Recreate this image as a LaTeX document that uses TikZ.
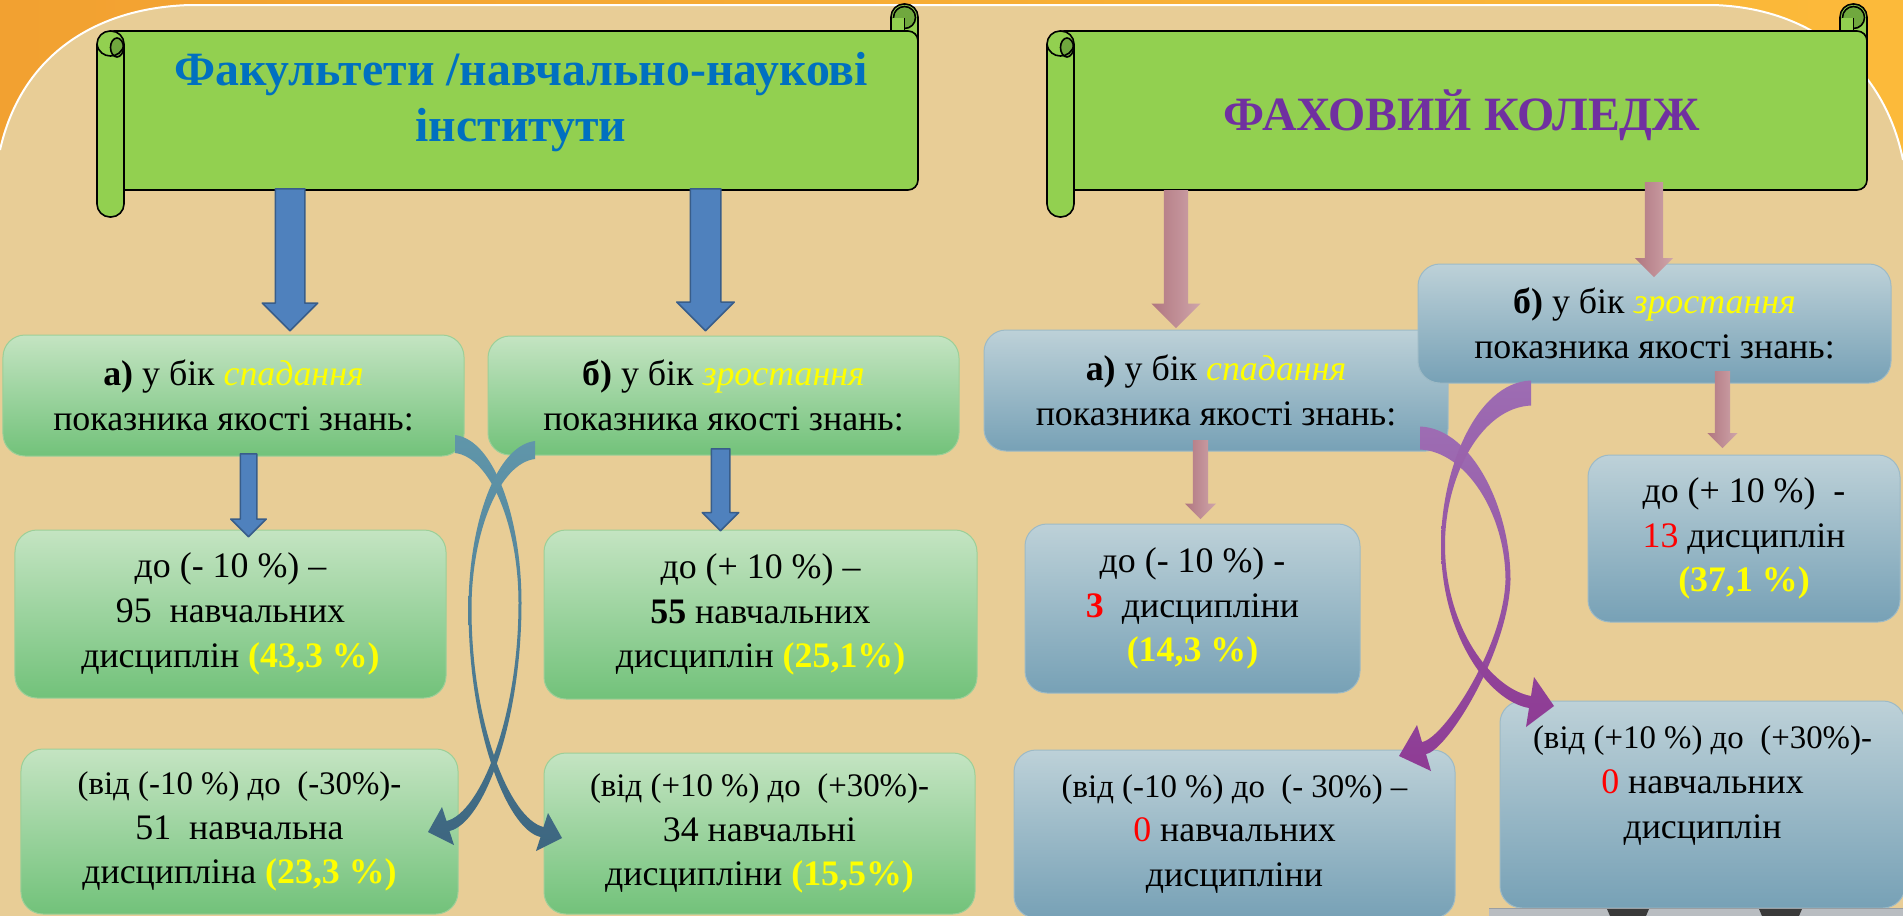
\documentclass[tikz,border=0pt]{standalone}
\usepackage{fontspec}
\setmainfont{Liberation Serif}
\usetikzlibrary{shapes.arrows}

\definecolor{orangel}{HTML}{F2A131}
\definecolor{oranger}{HTML}{FCBA3A}
\definecolor{parch}{HTML}{E8CD96}
\definecolor{scrollg}{HTML}{92D050}
\definecolor{scrolld}{HTML}{70A83E}
\definecolor{facblue}{HTML}{0070C0}
\definecolor{colpurple}{HTML}{7030A0}
\definecolor{gtop}{HTML}{C4E4C2}
\definecolor{gbot}{HTML}{72C27A}
\definecolor{gedge}{HTML}{9CCF98}
\definecolor{btop}{HTML}{BDD1D8}
\definecolor{bbot}{HTML}{77A1B6}
\definecolor{bedge}{HTML}{9DBAC6}
\definecolor{arrblue}{HTML}{4F81BD}
\definecolor{arrblued}{HTML}{385D8A}
\definecolor{rosel}{HTML}{B07680}
\definecolor{roser}{HTML}{CFA5AA}
\definecolor{tealtop}{HTML}{6096AA}
\definecolor{tealbot}{HTML}{3D6680}
\definecolor{lilactop}{HTML}{9D6DB3}
\definecolor{lilacbot}{HTML}{8E3B94}
\definecolor{yel}{HTML}{FFFF00}
\definecolor{numred}{HTML}{FF0000}
\definecolor{stripgrey}{HTML}{B9BDC1}
\definecolor{stripedge}{HTML}{9A9EA2}
\definecolor{stripdark}{HTML}{3A3A3A}

\newcommand\yelb[1]{\textcolor{yel}{\textbf{#1}}}
\newcommand\yeli[1]{\textcolor{yel}{\textit{#1}}}
\newcommand\rednum[1]{\textcolor{numred}{#1}}
\newcommand\vidline{\fontsize{33}{45}\selectfont}

\tikzset{
  scroll/.style={fill=scrollg,draw=black,line width=1.6bp},
  curl/.style={fill=scrolld,draw=black,line width=1.6bp},
  gbox/.style={rectangle,rounded corners=22bp,top color=gtop,bottom color=gbot,draw=gedge,line width=1bp,align=center,inner sep=0pt,font=\fontsize{36}{45}\selectfont},
  bbox/.style={gbox,top color=btop,bottom color=bbot,draw=bedge},
  bluearr/.style={single arrow,rotate=-90,anchor=tail,inner xsep=0pt,single arrow tip angle=90,fill=arrblue,draw=arrblued,line width=1.5bp},
  rosearr/.style={single arrow,rotate=-90,anchor=tail,inner xsep=0pt,single arrow tip angle=90,left color=rosel,right color=roser,draw=none},
}

\begin{document}
\begin{tikzpicture}[x=1bp,y=-1bp,line join=round]
\useasboundingbox (0,0) rectangle (1903,916);
%% background
\shade[left color=orangel,right color=oranger] (0,0) rectangle (1903,916);
\fill[parch] (0,150) .. controls (20,60) and (90,8) .. (190,5) -- (1713,5) .. controls (1815,8) and (1885,70) .. (1903,160) -- (1903,916) -- (0,916) -- cycle;
\draw[white,line width=2bp] (0,150) .. controls (20,60) and (90,8) .. (190,5) -- (1713,5) .. controls (1815,8) and (1885,70) .. (1903,160);
%% scroll 1
\filldraw[scroll,rounded corners=13bp] (891,4) rectangle (918,60);
\filldraw[scroll,rounded corners=10bp] (104,31) rectangle (918,190);
\filldraw[curl] (904.5,17.5) circle (11);
\fill[scrollg] (892.5,18) rectangle (904.5,30);
\draw[line width=1.6bp] (904.5,18) -- (904.5,31);
\filldraw[scroll,rounded corners=13bp] (97,31) rectangle (124,217);
\filldraw[curl] (117,47.5) ellipse (6.5 and 9.5);
\draw[line width=1.6bp] (97,44) .. controls (99,60) and (122,60) .. (124,44);
%% scroll 2
\filldraw[scroll,rounded corners=13bp] (1840,4) rectangle (1867,60);
\filldraw[scroll,rounded corners=10bp] (1054,31) rectangle (1867,190);
\filldraw[curl] (1853.5,17.5) circle (11);
\fill[scrollg] (1841.5,18) rectangle (1853.5,30);
\draw[line width=1.6bp] (1853.5,18) -- (1853.5,31);
\filldraw[scroll,rounded corners=13bp] (1047,31) rectangle (1074,217);
\filldraw[curl] (1067,47.5) ellipse (6.5 and 9.5);
\draw[line width=1.6bp] (1047,44) .. controls (1049,60) and (1072,60) .. (1074,44);
%% titles
\node (factitle) at (521,102) [align=center,text=facblue,font=\fontsize{48}{56}\selectfont\bfseries] {Факультети /навчально-наукові\\інститути};
\node (coltitle) at (1462,130) [anchor=base,text=colpurple,font=\fontsize{48}{56}\selectfont\bfseries] {ФАХОВИЙ КОЛЕДЖ};
%% faculties
\node (faca) at (233.5,395.5) [gbox,minimum width=461bp,minimum height=121bp] {\textbf{а)} у бік \yeli{спадання}\\показника якості знань:};
\node (facb) at (723.5,395.5) [gbox,minimum width=471bp,minimum height=119bp] {\textbf{б)} у бік \yeli{зростання}\\показника якості знань:};
\node (facdown) at (230.5,614) [gbox,minimum width=431bp,minimum height=168bp] {до (- 10 \%) –\\95~ навчальних\\дисциплін \yelb{(43,3 \%)}};
\node (facup) at (760.5,614.5) [gbox,minimum width=433bp,minimum height=169bp] {до (+ 10 \%) –\\\textbf{55} навчальних\\дисциплін \yelb{(25,1\%)}};
\node (facdowntwo) at (239.5,831.5) [gbox,minimum width=437bp,minimum height=165bp] {{\vidline(від (-10 \%) до~ (-30\%)-}\\51~ навчальна\\дисципліна \yelb{(23,3 \%)}};
\node (facuptwo) at (759.5,833.5) [gbox,minimum width=431bp,minimum height=161bp] {{\vidline(від (+10 \%) до~ (+30\%)-}\\34 навчальні\\дисципліни \yelb{(15,5\%)}};
%% college
\node (cola) at (1216,390.5) [bbox,minimum width=464bp,minimum height=121bp] {\textbf{а)} у бік \yeli{спадання}\\показника якості знань:};
\node (colb) at (1654.5,323.5) [bbox,minimum width=473bp,minimum height=119bp] {\textbf{б)} у бік \yeli{зростання}\\показника якості знань:};
\node (coldown) at (1192.5,608.5) [bbox,minimum width=335bp,minimum height=169bp] {до (- 10 \%) -\\\rednum{\textbf{3}}~ дисципліни\\\yelb{(14,3 \%)}};
\node (colup) at (1744,538.5) [bbox,minimum width=312bp,minimum height=167bp] {до (+ 10 \%)~ -\\\rednum{13} дисциплін\\\yelb{(37,1 \%)}};
\node (coldowntwo) at (1234.5,834) [bbox,minimum width=441bp,minimum height=168bp] {{\vidline(від (-10 \%) до~ (- 30\%) –}\\\rednum{0} навчальних\\дисципліни};
\node (coluptwo) at (1702.5,804.5) [bbox,minimum width=405bp,minimum height=207bp] {{\vidline(від (+10 \%) до~ (+30\%)-}\\\rednum{0} навчальних\\дисциплін\\\mbox{}};
%% block arrows
\node (arra) at (290,188) [bluearr,minimum height=142bp,inner ysep=14bp,single arrow head extend=13bp] {};
\node (arrb) at (705.5,188) [bluearr,minimum height=142bp,inner ysep=14.5bp,single arrow head extend=13.5bp] {};
\node (arrc) at (248.5,453) [bluearr,minimum height=83bp,inner ysep=7.5bp,single arrow head extend=9.5bp] {};
\node (arrd) at (720.5,448) [bluearr,minimum height=82bp,inner ysep=8.5bp,single arrow head extend=9bp] {};
\node (rosea) at (1176,190) [rosearr,minimum height=138bp,inner ysep=12bp,single arrow head extend=12.5bp] {};
\node (roseb) at (1654,182) [rosearr,minimum height=95bp,inner ysep=9bp,single arrow head extend=10bp] {};
\node (rosec) at (1200.5,440) [rosearr,minimum height=79bp,inner ysep=7.5bp,single arrow head extend=8bp] {};
\node (rosed) at (1722.5,371) [rosearr,minimum height=77bp,inner ysep=7.5bp,single arrow head extend=7.5bp] {};
%% curved arrows
\shade[top color=tealtop,bottom color=tealbot] (455,435) .. controls (495,440) and (521.5,520) .. (521.5,603) .. controls (521.5,722) and (484,823) .. (449.5,831) -- (454,845) -- (428,832) -- (442,807) -- (446.5,821) .. controls (480,813) and (518.5,718) .. (518.5,603) .. controls (518.5,525) and (490,457) .. (455,453) -- cycle;
\shade[top color=tealtop,bottom color=tealbot] (535,441) .. controls (495,446) and (468.5,526) .. (468.5,609) .. controls (468.5,728) and (506,829) .. (540.5,837) -- (536,851) -- (562,838) -- (548,813) -- (543.5,827) .. controls (510,819) and (471.5,724) .. (471.5,609) .. controls (471.5,531) and (500,463) .. (535,459) -- cycle;
\shade[top color=lilactop,bottom color=lilacbot] (1420,426.5) .. controls (1472,428.5) and (1510.5,508) .. (1510.5,580) .. controls (1508.5,652) and (1447,751) .. (1426,754) -- (1431,771) -- (1399,756) -- (1417,725) -- (1422,742) .. controls (1443,739) and (1503.5,648) .. (1505.5,580) .. controls (1505.5,514) and (1466,451.5) .. (1420,449.5) -- cycle;
\shade[top color=lilactop,bottom color=lilacbot] (1531,380.5) .. controls (1476,382.5) and (1441,470) .. (1441,545) .. controls (1441,634) and (1488,701) .. (1529,708) -- (1526,727) -- (1554,706) -- (1534,677) -- (1531,696) .. controls (1492,689) and (1445,628) .. (1445,545) .. controls (1445,475) and (1482,407.5) .. (1531,405.5) -- cycle;
%% strip at the bottom
\fill[stripgrey] (1489,908) rectangle (1903,916);
\draw[stripedge,line width=1bp] (1489,908) -- (1903,908);
\fill[stripdark] (1607,909) -- (1649,909) -- (1646,916) -- (1610,916) -- cycle;
\fill[stripdark] (1759,909) -- (1802,909) -- (1799,916) -- (1762,916) -- cycle;
\end{tikzpicture}
\end{document}
